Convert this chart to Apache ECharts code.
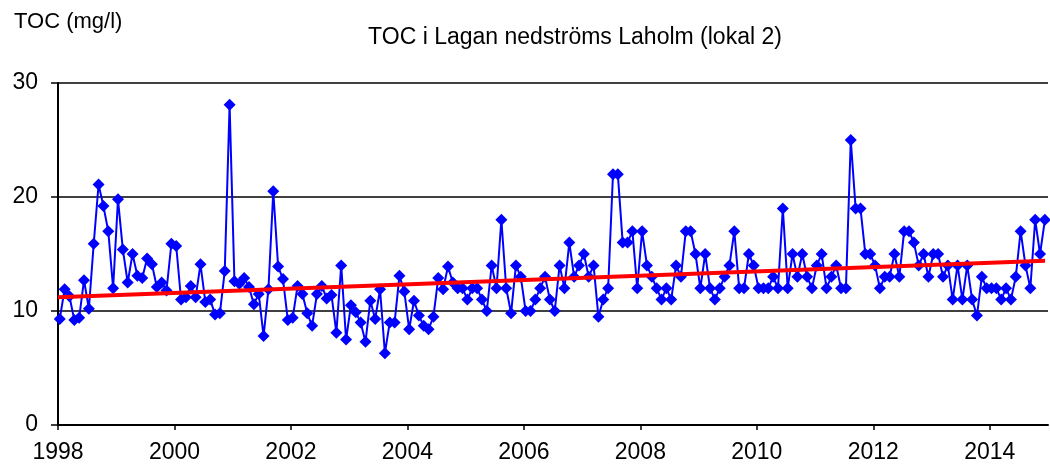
<!DOCTYPE html>
<html>
<head>
<meta charset="utf-8">
<script src="https://cdn.jsdelivr.net/npm/echarts@6/dist/echarts.min.js"></script>
<style>
  html, body { margin: 0; padding: 0; background: #fff; }
  #chart { width: 1050px; height: 466px; }
</style>
</head>
<body>
<div id="chart"></div>
<script>
// monthly TOC (mg/l), Jan 1998 .. Dec 2014
const startYear = 1998
const toc1998 = [9.3, 11.9, 11.3, 9.2, 9.4, 12.7, 10.2, 15.9, 21.1, 19.2, 17.0, 12.0]
const toc1999 = [19.8, 15.4, 12.5, 15.0, 13.1, 12.9, 14.6, 14.1, 12.1, 12.5, 11.8, 15.9]
const toc2000 = [15.7, 11.0, 11.2, 12.2, 11.2, 14.1, 10.8, 11.0, 9.7, 9.8, 13.5, 28.1]
const toc2001 = [12.6, 12.4, 12.9, 12.1, 10.6, 11.5, 7.8, 11.9, 20.5, 13.9, 12.8, 9.2]
const toc2002 = [9.4, 12.2, 11.5, 9.8, 8.7, 11.5, 12.2, 11.1, 11.4, 8.1, 14.0, 7.5]
const toc2003 = [10.5, 9.9, 9.0, 7.3, 10.9, 9.3, 11.9, 6.3, 9.0, 9.0, 13.1, 11.7]
const toc2004 = [8.4, 10.9, 9.6, 8.7, 8.4, 9.5, 12.9, 11.9, 13.9, 12.5, 12, 12]
const toc2005 = [11, 12, 12, 11, 10, 14, 12, 18, 12, 9.8, 14, 13]
const toc2006 = [10, 10, 11, 12, 13, 11, 10, 14, 12, 16, 13, 14]
const toc2007 = [15, 13, 14, 9.5, 11, 12, 22, 22, 16, 16, 17, 12]
const toc2008 = [17, 14, 13, 12, 11, 12, 11, 14, 13, 17, 17, 15]
const toc2009 = [12, 15, 12, 11, 12, 13, 14, 17, 12, 12, 15, 14]
const toc2010 = [12, 12, 12, 13, 12, 19, 12, 15, 13, 15, 13, 12]
const toc2011 = [14, 15, 12, 13, 14, 12, 12, 25, 19, 19, 15, 15]
const toc2012 = [14, 12, 13, 13, 15, 13, 17, 17, 16, 14, 15, 13]
const toc2013 = [15, 15, 13, 14, 11, 14, 11, 14, 11, 9.6, 13, 12]
const toc2014 = [12, 12, 11, 12, 11, 13, 17, 14, 12, 18, 15, 18]

// trend line, read at the two ends
const trendX = [1998, 2014.95]
const trendY = [11.2, 14.4]

const yearTicks = [1998, 2000, 2002, 2004, 2006, 2008, 2010, 2012, 2014]

const tocByYear = [toc1998, toc1999, toc2000, toc2001, toc2002, toc2003, toc2004, toc2005,
  toc2006, toc2007, toc2008, toc2009, toc2010, toc2011, toc2012, toc2013, toc2014]

// sample dates as decimal years (around the 10th of each month)
const tocData = []
tocByYear.forEach((vals, yi) => {
  vals.forEach((v, mi) => {
    tocData.push([startYear + yi + mi / 12 + 0.03, v])
  })
})

const font = 'Liberation Sans, Arial, sans-serif'
const chart = echarts.init(document.getElementById('chart'))

chart.setOption({
  animation: false,
  backgroundColor: '#fff',
  title: [
    {
      text: 'TOC (mg/l)',
      left: 9, top: 6,
      textStyle: { fontFamily: font, fontSize: 22, fontWeight: 'normal', color: '#000' }
    },
    {
      text: 'TOC i Lagan nedströms Laholm (lokal 2)',
      left: 570, top: 21, textAlign: 'center',
      textStyle: { fontFamily: font, fontSize: 23, fontWeight: 'normal', color: '#000' }
    }
  ],
  grid: { left: 58, right: 2, top: 83, bottom: 41 },
  xAxis: {
    type: 'value',
    min: 1998,
    max: 2015,
    interval: 2,
    axisLine: { onZero: false, lineStyle: { color: '#000', width: 2 } },
    axisTick: { show: true, length: 5, lineStyle: { color: '#000', width: 1.5 }, customValues: yearTicks },
    axisLabel: {
      color: '#000', fontFamily: font, fontSize: 23, margin: 16,
      customValues: yearTicks,
      formatter: v => String(Math.round(v))
    },
    splitLine: { show: false }
  },
  yAxis: {
    type: 'value',
    min: 0,
    max: 30,
    interval: 10,
    axisLine: { show: true, lineStyle: { color: '#000', width: 2 } },
    axisTick: { show: true, length: 7, lineStyle: { color: '#000', width: 1.5 } },
    axisLabel: { color: '#000', fontFamily: font, fontSize: 23, margin: 20 },
    splitLine: { show: true, lineStyle: { color: '#000', width: 1.5 } }
  },
  series: [
    {
      name: 'TOC',
      type: 'line',
      data: tocData,
      symbol: 'diamond',
      symbolSize: 12,
      showAllSymbol: true,
      lineStyle: { color: '#0000ff', width: 2 },
      itemStyle: { color: '#0000ff' },
      z: 2
    },
    {
      name: 'Trend',
      type: 'line',
      data: trendX.map((x, i) => [x, trendY[i]]),
      symbol: 'none',
      lineStyle: { color: '#ff0000', width: 4 },
      z: 3
    }
  ]
})
</script>
</body>
</html>
